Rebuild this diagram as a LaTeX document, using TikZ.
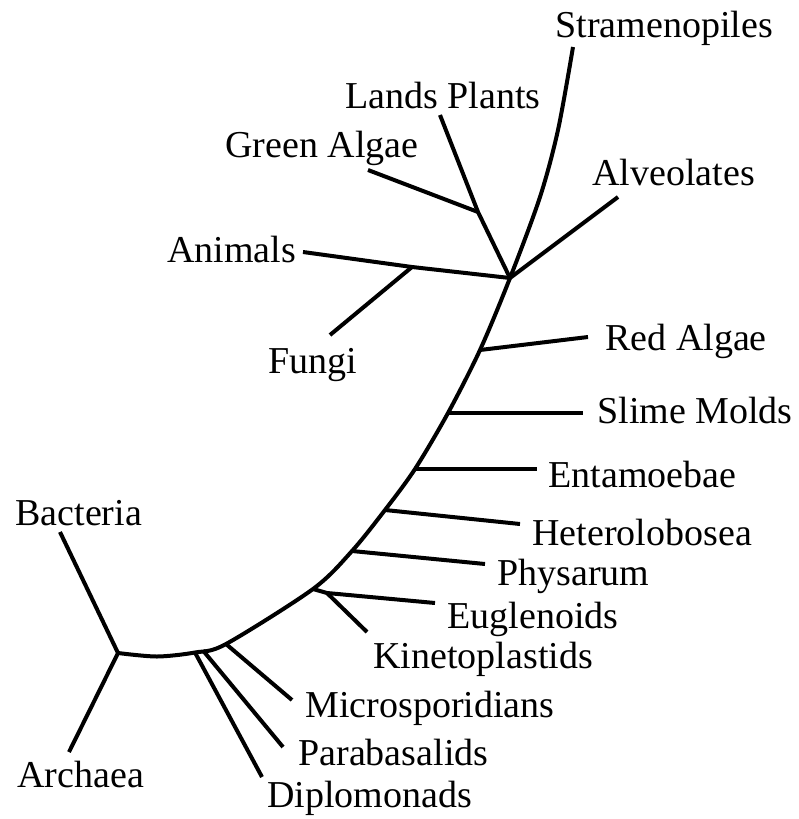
\documentclass[tikz,border=0pt]{standalone}
\usepackage{fontspec}
\setmainfont{Liberation Serif}

\begin{document}
\begin{tikzpicture}[x=0.5pt,y=-0.5pt,
  br/.style={line width=2pt},
  lbl/.style={anchor=base west,inner sep=0pt,font=\fontsize{19}{22}\selectfont}
]
  \useasboundingbox (0,0) rectangle (798,819);

  % points on the main arc
  \coordinate (root) at (118,653);
  \coordinate (a1)   at (157,656.5);
  \coordinate (dip)  at (195,652.5);
  \coordinate (par)  at (203,650.5);
  \coordinate (mic)  at (226,644);
  \coordinate (eug)  at (313,589);
  \coordinate (phy)  at (352,551);
  \coordinate (het)  at (385,510);
  \coordinate (ent)  at (415,469);
  \coordinate (sli)  at (448,413);
  \coordinate (red)  at (480,350);
  \coordinate (top)  at (510,278);
  \coordinate (a3)   at (540,197);
  \coordinate (a4)   at (558,130);
  \coordinate (str)  at (573,47);

  % inner junctions and leaf ends
  \coordinate (kinj) at (327,593);
  \coordinate (lpj)  at (478,212);
  \coordinate (funj) at (412,267);
  \coordinate (bac)  at (60,532);
  \coordinate (arc)  at (69,752);
  \coordinate (alv)  at (618,197);
  \coordinate (lp)   at (440,115);
  \coordinate (ga)   at (368,170);
  \coordinate (ani)  at (303,252);
  \coordinate (fun)  at (330,335);
  \coordinate (redE) at (588,337);
  \coordinate (sliE) at (583,413);
  \coordinate (entE) at (537,469);
  \coordinate (hetE) at (520,524);
  \coordinate (phyE) at (485,564);
  \coordinate (eugE) at (435,603);
  \coordinate (kin)  at (367,632);
  \coordinate (micE) at (292,700);
  \coordinate (parE) at (283,747);
  \coordinate (dipE) at (262,777);

  \node[lbl] (nStr) at (555,38)  {Stramenopiles};
  \node[lbl] (nLp)  at (345,108) {Lands Plants};
  \node[lbl] (nGa)  at (225,157) {Green Algae};
  \node[lbl] (nAlv) at (592,185) {Alveolates};
  \node[lbl] (nAni) at (167,262) {Animals};
  \node[lbl] (nFun) at (268,373) {Fungi};
  \node[lbl] (nRed) at (605,350) {Red Algae};
  \node[lbl] (nSli) at (597,423) {Slime Molds};
  \node[lbl] (nEnt) at (548,487) {Entamoebae};
  \node[lbl] (nHet) at (532,545) {Heterolobosea};
  \node[lbl] (nPhy) at (497,585) {Physarum};
  \node[lbl] (nEug) at (447,628) {Euglenoids};
  \node[lbl] (nKin) at (373,668) {Kinetoplastids};
  \node[lbl] (nMic) at (305,717) {Microsporidians};
  \node[lbl] (nPar) at (298,765) {Parabasalids};
  \node[lbl] (nDip) at (267,807) {Diplomonads};
  \node[lbl] (nBac) at (15,525)  {Bacteria};
  \node[lbl] (nArc) at (17,787)  {Archaea};

  \draw[br] plot[smooth] coordinates {(root) (a1) (dip) (mic) (eug) (phy) (het) (ent) (sli) (red) (top) (a3) (a4) (str)};

  \draw[br] (root) -- (bac);
  \draw[br] (root) -- (arc);
  \draw[br] (top) -- (alv);
  \draw[br] (top) -- (lpj) -- (lp);
  \draw[br] (lpj) -- (ga);
  \draw[br] (top) -- (funj) -- (ani);
  \draw[br] (funj) -- (fun);
  \draw[br] (red) -- (redE);
  \draw[br] (sli) -- (sliE);
  \draw[br] (ent) -- (entE);
  \draw[br] (het) -- (hetE);
  \draw[br] (phy) -- (phyE);
  \draw[br] (eug) -- (kinj) -- (eugE);
  \draw[br] (kinj) -- (kin);
  \draw[br] (mic) -- (micE);
  \draw[br] (par) -- (parE);
  \draw[br] (dip) -- (dipE);
\end{tikzpicture}
\end{document}
